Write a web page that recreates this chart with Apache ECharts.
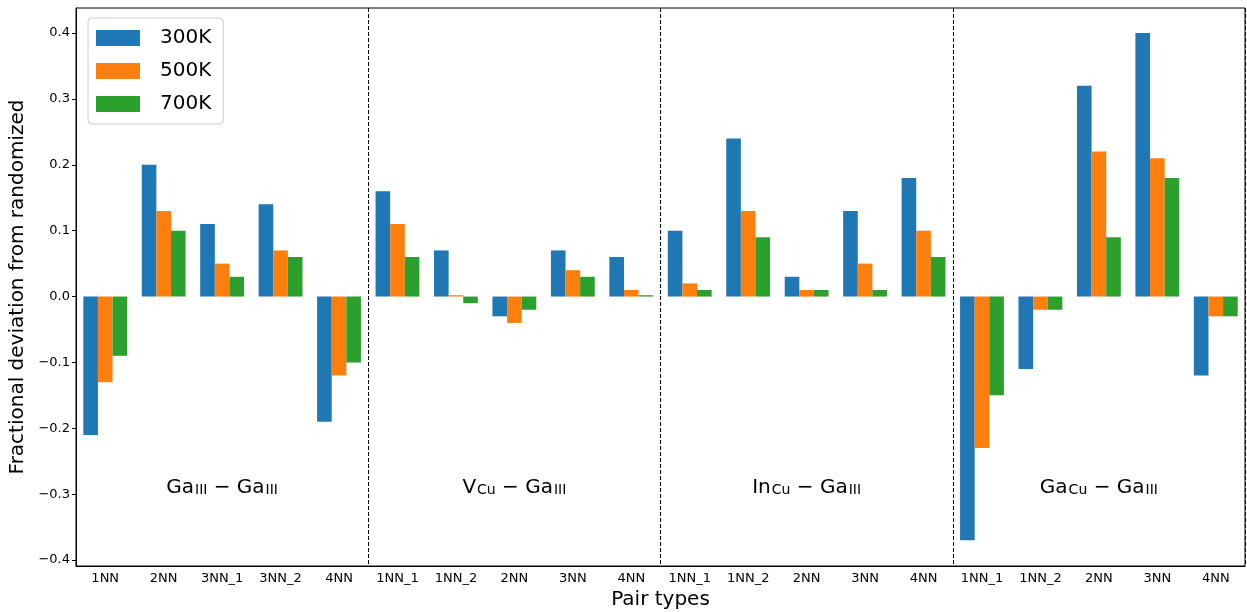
<!DOCTYPE html>
<html><head><meta charset="utf-8">
<script src="https://cdn.jsdelivr.net/npm/echarts@6/dist/echarts.min.js"></script>
<style>html,body{margin:0;padding:0;background:#fff}#c{width:1247px;height:612px}</style>
</head><body><div id="c"></div>
<script>
const categories = ['1NN','2NN','3NN_1','3NN_2','4NN',
  '1NN_1','1NN_2','2NN','3NN','4NN',
  '1NN_1','1NN_2','2NN','3NN','4NN',
  '1NN_1','1NN_2','2NN','3NN','4NN'];
const seriesNames = ['300K','500K','700K'];
const v300 = [-0.21,0.20,0.11,0.14,-0.19, 0.16,0.07,-0.03,0.07,0.06, 0.10,0.24,0.03,0.13,0.18, -0.37,-0.11,0.32,0.40,-0.12];
const v500 = [-0.13,0.13,0.05,0.07,-0.12, 0.11,0.002,-0.04,0.04,0.01, 0.02,0.13,0.01,0.05,0.10, -0.23,-0.02,0.22,0.21,-0.03];
const v700 = [-0.09,0.10,0.03,0.06,-0.10, 0.06,-0.01,-0.02,0.03,0.002, 0.01,0.09,0.01,0.01,0.06, -0.15,-0.02,0.09,0.18,-0.03];
const yTicks = [-0.4,-0.3,-0.2,-0.1,0.0,0.1,0.2,0.3,0.4];
// group labels: [category index of group centre, y value, main1, sub1, main2, sub2]
const groupLabels = [
  [2, -0.285, 'Ga', 'III', 'Ga', 'III'],
  [7, -0.285, 'V', 'Cu', 'Ga', 'III'],
  [12, -0.285, 'In', 'Cu', 'Ga', 'III'],
  [17, -0.285, 'Ga', 'Cu', 'Ga', 'III']
];
const groupBoundaries = [5, 10, 15];
const colors = ['#1f77b4','#ff7f0e','#2ca02c'];

const font = 'DejaVu Sans';
const fmt = v => {
  const r = Math.round(v*10)/10;
  return (r < 0 ? '\u2212' : '') + Math.abs(r).toFixed(1);
};
const chart = echarts.init(document.getElementById('c'), null, {renderer:'canvas'});
const barSeries = [v300, v500, v700].map((d, i) => ({
  name: seriesNames[i], type: 'bar', data: d,
  barGap: '0%', barCategoryGap: '25%',
  itemStyle: {color: colors[i]}, emphasis: {disabled: true}
}));
chart.setOption({
  animation: false,
  textStyle: {fontFamily: font},
  grid: {left: 76, right: 2, top: 8, bottom: 46, show: true, borderColor: '#000', borderWidth: 1,
    containLabel: false, outerBoundsMode: 'none'},
  legend: {
    data: seriesNames, orient: 'vertical', left: 88, top: 18,
    itemWidth: 44, itemHeight: 16, itemGap: 13,
    padding: [10, 12, 10, 8],
    borderColor: '#ccc', borderWidth: 1, borderRadius: 4, backgroundColor: '#fff',
    textStyle: {fontSize: 20, fontFamily: font, color: '#000', padding: [0,0,0,15]},
    icon: 'rect'
  },
  xAxis: {
    type: 'category', data: categories,
    name: 'Pair types', nameLocation: 'middle', nameGap: 22,
    nameTextStyle: {fontSize: 20, color: '#000', fontFamily: font},
    axisLine: {onZero: false, lineStyle: {color: '#000'}},
    axisTick: {alignWithLabel: true, length: 4, lineStyle: {color: '#000'}},
    axisLabel: {fontSize: 13, color: '#000', interval: 0, margin: 6, fontFamily: font},
    splitLine: {show: true, interval: (i) => groupBoundaries.indexOf(i) >= 0,
      lineStyle: {color: '#000', type: [4, 2], width: 1}}
  },
  yAxis: {
    type: 'value', min: -0.409, max: 0.438,
    name: 'Fractional deviation from randomized', nameLocation: 'middle', nameGap: 43,
    nameTextStyle: {fontSize: 20, color: '#000', fontFamily: font},
    axisLine: {show: true, lineStyle: {color: '#000'}},
    axisTick: {show: true, length: 4, customValues: yTicks, lineStyle: {color: '#000'}},
    axisLabel: {fontSize: 13, color: '#000', margin: 6, customValues: yTicks, formatter: fmt, fontFamily: font},
    splitLine: {show: false}
  },
  series: [...barSeries, {
    type: 'scatter', symbolSize: 0, silent: true,
    data: groupLabels.map(g => ({value: [g[0], g[1]], g})),
    label: {
      show: true, position: 'inside', color: '#000', textBorderWidth: 0, opacity: 1,
      formatter: p => {
        const g = p.data.g;
        return `{m|${g[2]}}{s|${g[3]}}{m| \u2212 ${g[4]}}{s|${g[5]}}`;
      },
      rich: {
        m: {fontSize: 20, color: '#000', fontFamily: font, lineHeight: 26, verticalAlign: 'bottom'},
        s: {fontSize: 14, color: '#000', fontFamily: font, lineHeight: 26, verticalAlign: 'bottom', padding: [8,0,0,1]}
      }
    },
    itemStyle: {opacity: 1}
  }]
});
</script></body></html>
